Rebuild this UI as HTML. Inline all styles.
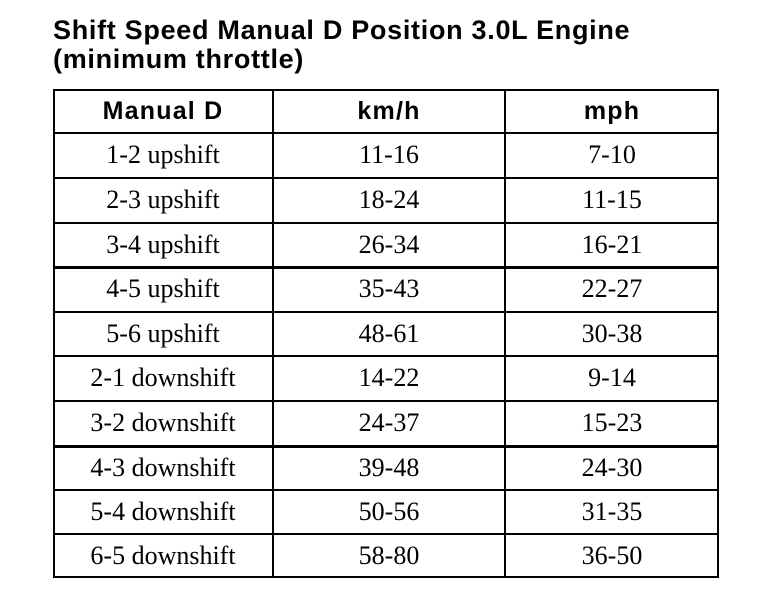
<!DOCTYPE html>
<html><head><style>
body{margin:0;width:768px;height:610px;background:#fff;position:relative;overflow:hidden;font-family:"Liberation Serif",serif;color:#000}
.t{position:absolute;left:53px;font-family:"Liberation Sans",sans-serif;font-weight:bold;font-size:27px;line-height:28px;letter-spacing:0.7px}
.h{position:absolute;left:53px;top:89px;width:666px;height:489px;border:2px solid #000;box-sizing:border-box}
.hl{position:absolute;left:53px;width:666px;height:2px;background:#000}
.vl{position:absolute;top:89px;height:489px;width:2px;background:#000}
.c{position:absolute;text-align:center;font-size:26px;height:44px;line-height:44px}
.b{font-family:"Liberation Sans",sans-serif;font-weight:bold;font-size:25px;letter-spacing:1.2px}
</style></head><body>
<div class="t" style="top:16px">Shift Speed Manual D Position 3.0L Engine</div>
<div class="t" style="top:45px">(minimum throttle)</div>
<div class="h"></div>
<div class="vl" style="left:272px"></div>
<div class="vl" style="left:504px"></div>
<script>
var ys=[133,178,223,267,312,356,401,446,490,534];
ys.forEach(function(y,i){var d=document.createElement('div');d.className='hl';d.style.top=(y-1)+'px';if(i==3||i==7)d.style.height='3px';document.body.appendChild(d);});
var data=[["Manual D","km/h","mph"],["1-2 upshift","11-16","7-10"],["2-3 upshift","18-24","11-15"],["3-4 upshift","26-34","16-21"],["4-5 upshift","35-43","22-27"],["5-6 upshift","48-61","30-38"],["2-1 downshift","14-22","9-14"],["3-2 downshift","24-37","15-23"],["4-3 downshift","39-48","24-30"],["5-4 downshift","50-56","31-35"],["6-5 downshift","58-80","36-50"]];
var tops=[89].concat(ys);var cols=[[53,220],[273,232],[505,214]];
data.forEach(function(r,i){r.forEach(function(s,j){var d=document.createElement('div');d.className='c'+(i==0?' b':'');d.style.top=tops[i]+'px';d.style.left=cols[j][0]+'px';d.style.width=cols[j][1]+'px';d.textContent=s;document.body.appendChild(d);});});
</script>
</body></html>
